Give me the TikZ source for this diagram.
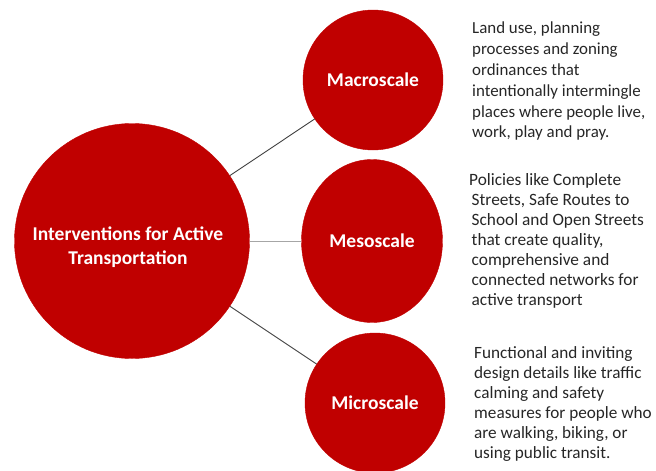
\documentclass[tikz,border=0pt]{standalone}
\usepackage{fontspec}
\setmainfont{Carlito}
\usetikzlibrary{shapes.geometric}
\definecolor{cred}{HTML}{C00000}
\definecolor{ctext}{HTML}{262626}
\definecolor{cdark}{HTML}{404040}
\definecolor{clight}{HTML}{A6A6A6}
\begin{document}
\begin{tikzpicture}[x=1pt,y=-1pt,
  bubble/.style={circle, fill=cred, draw=cred, text=white, font=\bfseries\fontsize{19.5}{24}\selectfont, inner sep=0pt, align=center},
  bubbletext/.style={text=white, font=\bfseries\fontsize{19.5}{24}\selectfont, inner sep=0pt, align=center},
  desc/.style={anchor=north west, text=ctext, font=\fontsize{16.5}{20.4}\selectfont, align=left, inner sep=0pt},
  link/.style={draw=cdark, line width=0.9pt},
  lightlink/.style={draw=clight, line width=1pt}]
\useasboundingbox (0,0) rectangle (656,471);
\node[bubble, minimum size=235pt] (big) at (132,241) {};
\node[bubbletext] (bigtext) at (128,247) {Interventions for Active\\Transportation};
\node[bubble, minimum size=140pt] (macro) at (373,80) {Macroscale};
\node[bubble, ellipse, minimum width=141pt, minimum height=163pt] (meso) at (372,241) {Mesoscale};
\node[bubble, minimum size=140pt] (micro) at (375,403) {Microscale};
\draw[link] (big) -- (macro);
\draw[lightlink] (big.east) -- (meso.west);
\draw[link] (big) -- (micro);
\node[desc, font=\fontsize{16.9}{20.8}\selectfont] (t1) at (472,22) {Land use, planning\\processes and zoning\\ordinances that\\intentionally intermingle\\places where people live,\\work, play and pray.};
\node[desc, font=\fontsize{17.3}{20}\selectfont] (t2) at (469,173) {Policies like Complete\\\hspace*{2.5pt}Streets, Safe Routes to\\\hspace*{2.5pt}School and Open Streets\\\hspace*{2.5pt}that create quality,\\\hspace*{2.5pt}comprehensive and\\\hspace*{2.5pt}connected networks for\\\hspace*{2.5pt}active transport};
\node[desc, font=\fontsize{17.2}{20}\selectfont] (t3) at (474,346) {Functional and inviting\\design details like traffic\\calming and safety\\measures for people who\\are walking, biking, or\\using public transit.};
\end{tikzpicture}
\end{document}
